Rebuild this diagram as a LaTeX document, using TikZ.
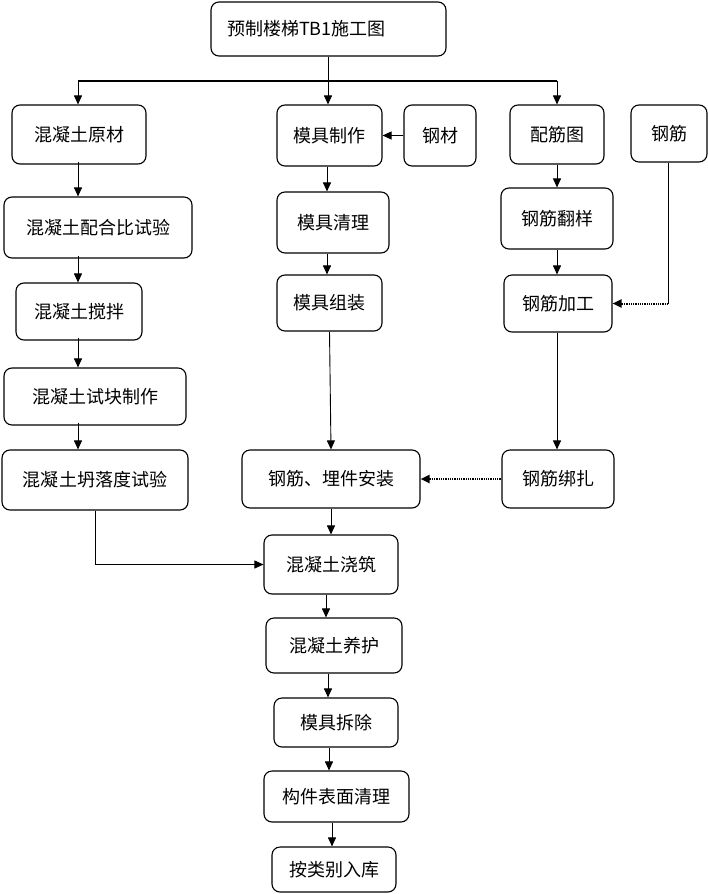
\documentclass[tikz,border=0pt]{standalone}
\usepackage{fontspec}
\newfontfamily\cjk{Noto Sans CJK SC}
\usetikzlibrary{arrows.meta}
\begin{document}
\begin{tikzpicture}[x=1pt,y=-1pt,
  box/.style={draw, line width=1.1pt, rounded corners=8pt, inner sep=0pt, align=center,
    font=\cjk\fontsize{18}{21}\selectfont},
  conn/.style={line width=0.9pt},
  arr/.style={conn, -{Triangle[length=9pt,width=8pt]}},
  dotarr/.style={line width=2pt, dash pattern=on 1pt off 0.8pt, -{Triangle[length=9pt,width=8pt]}}]
\useasboundingbox (0,0) rectangle (708,894);
\fill[white] (0,0) rectangle (708,894);

% title
\node[box, minimum width=235pt, minimum height=54pt, text width=203pt, inner xsep=16pt, align=left] (title) at (328.5,29) {预制楼梯TB1施工图};

% left column
\node[box, minimum width=134pt, minimum height=59pt] (ylc) at (79,134.5) {混凝土原材};
\node[box, minimum width=188pt, minimum height=61pt] (phb) at (98,227.5) {混凝土配合比试验};
\node[box, minimum width=126pt, minimum height=57pt] (jb) at (79,311.5) {混凝土搅拌};
\node[box, minimum width=182pt, minimum height=57pt] (sk) at (95,396.5) {混凝土试块制作};
\node[box, minimum width=186pt, minimum height=60pt] (tld) at (95,480) {混凝土坍落度试验};

% middle column
\node[box, minimum width=105pt, minimum height=61pt] (mjzz) at (329.5,135.5) {模具制作};
\node[box, minimum width=112pt, minimum height=61pt] (mjql) at (333,222.5) {模具清理};
\node[box, minimum width=105pt, minimum height=56pt] (mjzu) at (329.5,303) {模具组装};
\node[box, minimum width=178pt, minimum height=58pt] (az) at (331,479) {钢筋、埋件安装};
\node[box, minimum width=134pt, minimum height=59pt] (jz) at (331,564.5) {混凝土浇筑};
\node[box, minimum width=136pt, minimum height=55pt] (yh) at (334,645.5) {混凝土养护};
\node[box, minimum width=124pt, minimum height=49pt] (cc) at (336,722.5) {模具拆除};
\node[box, minimum width=145pt, minimum height=51pt] (qm) at (336.5,796.5) {构件表面清理};
\node[box, minimum width=124pt, minimum height=45pt] (rk) at (334,869.5) {按类别入库};

% right columns
\node[box, minimum width=72pt, minimum height=61pt] (gc) at (440,135.5) {钢材};
\node[box, minimum width=94pt, minimum height=59pt] (pjt) at (557,134.5) {配筋图};
\node[box, minimum width=76pt, minimum height=57pt] (gj) at (669,133.5) {钢筋};
\node[box, minimum width=112pt, minimum height=61pt] (fy) at (557,218.5) {钢筋翻样};
\node[box, minimum width=108pt, minimum height=57pt] (jg) at (558,303.5) {钢筋加工};
\node[box, minimum width=112pt, minimum height=58pt] (bz) at (558,479) {钢筋绑扎};

% top distribution
\coordinate (j) at (328,81);
\draw[conn] (title.south -| j) -- (j);
\draw[line width=1.6pt] (78,81) -- (557,81);
\draw[arr] (78,81) -- (ylc.north -| 78,0);
\draw[arr] (j) -- (mjzz.north -| j);
\draw[arr] (pjt.north |- j) -- (pjt.north);

% left chain
\draw[arr] ([yshift=3pt]ylc.south -| 78,0) -- (phb.north -| 78,0);
\draw[arr] ([yshift=3pt]phb.south -| 78,0) -- (jb.north -| 78,0);
\draw[arr] ([yshift=3pt]jb.south -| 78,0) -- (sk.north -| 78,0);
\draw[arr] ([yshift=3pt]sk.south -| 78,0) -- (tld.north -| 78,0);
\draw[arr] (tld.south) |- (jz.west);

% middle chain
\draw[arr] (gc.west) -- (mjzz.east);
\draw[arr] (mjzz.south -| 327,0) -- (mjql.north -| 327,0);
\draw[arr] (mjql.south -| 327,0) -- (mjzu.north -| 327,0);
\draw[arr] (mjzu.south) -- (az.north);
\draw[arr] (az.south) -- (jz.north);
\draw[arr] (jz.south -| 326,0) -- (yh.north -| 326,0);
\draw[arr] (yh.south -| 328,0) -- (cc.north -| 328,0);
\draw[arr] (cc.south -| 329,0) -- (qm.north -| 329,0);
\draw[arr] (qm.south -| 332,0) -- (rk.north -| 332,0);

% right chain
\draw[arr] (pjt.south) -- (fy.north -| pjt.south);
\draw[arr] (fy.south) -- (jg.north -| fy.south);
\draw[arr] (jg.south -| 557,0) -- (bz.north -| 557,0);
\coordinate (gjc) at (668,303.5);
\draw[conn] (gj.south -| gjc) -- (gjc);
\draw[dotarr] (gjc) -- (jg.east);
\draw[dotarr] (bz.west) -- (az.east);
\end{tikzpicture}
\end{document}
